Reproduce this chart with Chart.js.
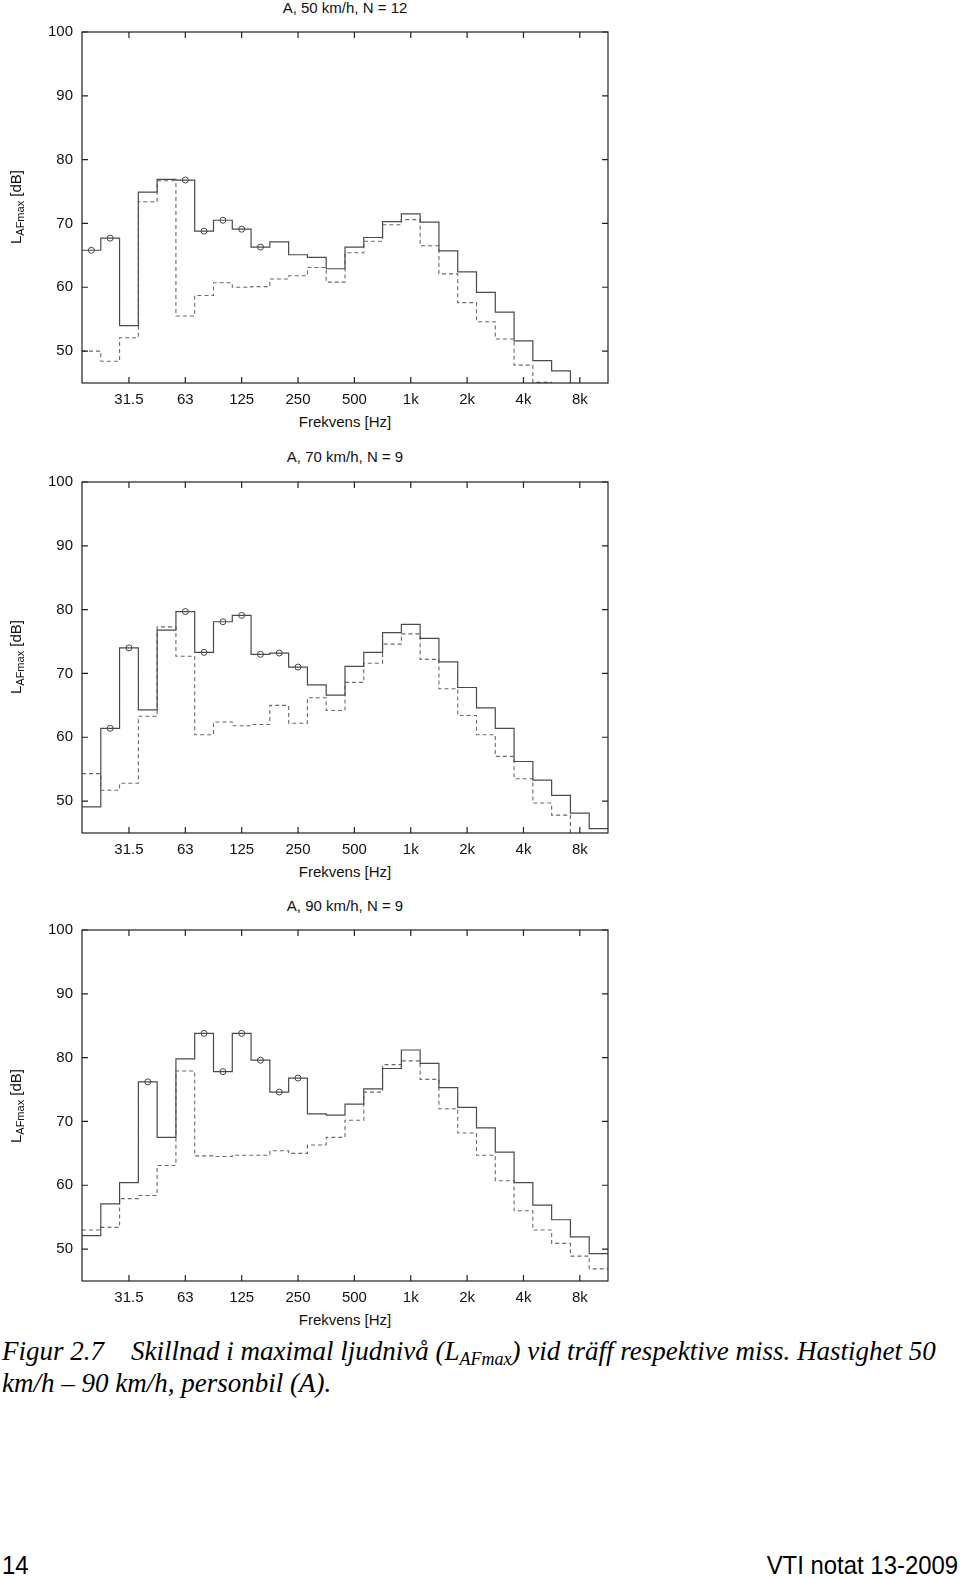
<!DOCTYPE html>
<html>
<head>
<meta charset="utf-8">
<script src="https://cdn.jsdelivr.net/npm/chart.js@4.4.1/dist/chart.umd.min.js"></script>
<style>
  body { margin: 0; background: #fff; width: 960px; height: 1578px; position: relative; overflow: hidden; }
  .box { position: absolute; left: 0; width: 620px; height: 401px; }
  .txt { position: absolute; font-family: "Liberation Sans", Arial, sans-serif; font-size: 15px; line-height: 18px; color: #111; white-space: nowrap; }
  .ttl { left: 145px; width: 400px; text-align: center; }
  .ylab { left: -34px; width: 100px; text-align: center; transform: rotate(-90deg); }
  .ylab sub { font-size: 11px; vertical-align: -3px; line-height: 0; }
  .cap { position: absolute; left: 2px; font-family: "Liberation Serif", "Times New Roman", serif; font-style: italic; font-size: 27px; line-height: 31.5px; color: #000; white-space: nowrap; }
  .cap sub { font-size: 18px; vertical-align: -5px; line-height: 0; }
  .foot { position: absolute; top: 1550px; font-family: "Liberation Sans", sans-serif; font-size: 26px; line-height: 30px; color: #000; }
</style>
</head>
<body>

<div class="txt ttl" style="top:-1px">A, 50 km/h, N = 12</div>
<div class="box" style="top:11.5px"><canvas id="c50"></canvas></div>
<div class="txt ttl" style="top:413px">Frekvens [Hz]</div>
<div class="txt ylab" style="top:198px">L<sub>AFmax</sub> [dB]</div>

<div class="txt ttl" style="top:448px">A, 70 km/h, N = 9</div>
<div class="box" style="top:461.5px"><canvas id="c70"></canvas></div>
<div class="txt ttl" style="top:863px">Frekvens [Hz]</div>
<div class="txt ylab" style="top:648px">L<sub>AFmax</sub> [dB]</div>

<div class="txt ttl" style="top:897px">A, 90 km/h, N = 9</div>
<div class="box" style="top:910px"><canvas id="c90"></canvas></div>
<div class="txt ttl" style="top:1311px">Frekvens [Hz]</div>
<div class="txt ylab" style="top:1097px">L<sub>AFmax</sub> [dB]</div>

<div class="cap" style="top:1336px">Figur 2.7<span style="display:inline-block;width:27px"></span>Skillnad i maximal ljudnivå (L<sub>AFmax</sub>) vid träff respektive miss. Hastighet 50<br>km/h – 90 km/h, personbil (A).</div>

<div class="foot" style="left:2px;transform:scaleX(0.92);transform-origin:left">14</div>
<div class="foot" style="right:2px;transform:scaleX(0.92);transform-origin:right">VTI notat 13-2009</div>

<script>
// third-octave bands 20 Hz .. 10 kHz, index 0..27
const tickBands = [2, 5, 8, 11, 14, 17, 20, 23, 26];
const tickLabels = ['31.5', '63', '125', '250', '500', '1k', '2k', '4k', '8k'];
const yTicks = [50, 60, 70, 80, 90, 100];

// 50 km/h
const solid50 = [65.8, 67.7, 54.0, 74.9, 76.9, 76.8, 68.8, 70.5, 69.1, 66.3, 67.1, 65.1, 64.7, 62.9,
                 66.3, 67.8, 70.3, 71.5, 70.2, 65.7, 62.4, 59.2, 56.1, 51.6, 48.5, 46.9, 43.0, 41.0];
const dashed50 = [50.0, 48.4, 52.1, 73.4, 76.7, 55.5, 58.7, 60.7, 60.0, 60.1, 61.3, 61.8, 63.1, 60.8,
                  65.4, 67.2, 69.8, 70.6, 66.5, 62.1, 57.6, 54.6, 51.9, 47.8, 45.1, 43.0, 41.0, 40.0];
const marks50 = [0, 1, 5, 6, 7, 8, 9];

// 70 km/h
const solid70 = [49.1, 61.4, 74.0, 64.3, 76.8, 79.7, 73.3, 78.1, 79.1, 73.0, 73.2, 71.0, 68.2, 66.6,
                 71.1, 73.3, 76.4, 77.7, 75.5, 71.8, 67.8, 64.6, 61.4, 56.2, 53.3, 50.9, 48.1, 45.7];
const dashed70 = [54.3, 51.7, 52.8, 63.3, 77.3, 72.7, 60.4, 62.4, 61.8, 62.0, 65.0, 62.2, 66.2, 64.2,
                  68.6, 71.6, 74.6, 76.2, 72.2, 67.6, 63.4, 60.4, 57.0, 53.5, 49.7, 47.8, 43.0, 41.0];
const marks70 = [1, 2, 5, 6, 7, 8, 9, 10, 11];

// 90 km/h
const solid90 = [52.1, 57.1, 60.4, 76.2, 67.5, 79.8, 83.8, 77.8, 83.8, 79.6, 74.6, 76.8, 71.2, 71.0,
                 72.7, 75.1, 78.3, 81.2, 79.1, 75.3, 72.2, 69.0, 65.2, 60.4, 56.9, 54.6, 51.9, 49.3];
const dashed90 = [53.0, 53.4, 57.9, 58.4, 63.1, 77.9, 64.6, 64.5, 64.7, 64.7, 65.4, 65.0, 66.3, 67.5,
                  70.2, 74.6, 78.9, 79.5, 76.6, 72.0, 68.2, 64.7, 60.7, 56.0, 53.0, 50.9, 48.9, 46.9];
const marks90 = [3, 6, 7, 8, 9, 10, 11];

// points at lower band edges, plus closing point at the upper edge of the last band
function steps(vals) {
    var pts = vals.map((v, i) => ({x: i - 0.5, y: v}));
    pts.push({x: vals.length - 0.5, y: vals[vals.length - 1]});
    return pts;
}

const frame = {
    id: 'frame',
    afterDraw(chart) {
        const ctx = chart.ctx;
        const a = chart.chartArea;
        const xs = chart.scales.x, ys = chart.scales.y;
        ctx.save();
        ctx.strokeStyle = '#222';
        ctx.lineWidth = 1.2;
        ctx.strokeRect(a.left, a.top, a.right - a.left, a.bottom - a.top);
        ctx.beginPath();
        ys.ticks.forEach(t => {
            const p = ys.getPixelForValue(t.value);
            ctx.moveTo(a.left, p); ctx.lineTo(a.left + 6, p);
            ctx.moveTo(a.right, p); ctx.lineTo(a.right - 6, p);
        });
        xs.ticks.forEach(t => {
            const p = xs.getPixelForValue(t.value);
            ctx.moveTo(p, a.bottom); ctx.lineTo(p, a.bottom - 6);
            ctx.moveTo(p, a.top); ctx.lineTo(p, a.top + 6);
        });
        ctx.stroke();
        ctx.restore();
    }
};

function makeChart(id, solid, dashed, marks) {
    new Chart(document.getElementById(id), {
        type: 'line',
        data: {
            datasets: [{
                data: steps(solid),
                stepped: true,
                borderColor: '#4a4a4a',
                borderWidth: 1.2,
                pointRadius: 0
            }, {
                data: steps(dashed),
                stepped: true,
                borderColor: '#6a6a6a',
                borderWidth: 1.1,
                borderDash: [4, 3],
                pointRadius: 0
            }, {
                data: marks.map(i => ({x: i, y: solid[i]})),
                showLine: false,
                pointRadius: 3,
                pointBorderWidth: 1,
                pointBorderColor: '#444',
                pointBackgroundColor: 'rgba(0,0,0,0)'
            }]
        },
        options: {
            responsive: true,
            maintainAspectRatio: false,
            animation: false,
            layout: { padding: { top: 20, right: 12, left: 0, bottom: 0 } },
            plugins: { legend: { display: false }, tooltip: { enabled: false } },
            scales: {
                x: {
                    type: 'linear',
                    min: -0.5,
                    max: 27.5,
                    afterBuildTicks: s => { s.ticks = tickBands.map(v => ({value: v})); },
                    afterFit: s => { s.height = 30; },
                    grid: { display: false, drawTicks: false },
                    border: { display: false },
                    ticks: {
                        padding: 8,
                        maxRotation: 0,
                        color: '#111',
                        font: { family: 'Liberation Sans', size: 15 },
                        callback: (v, i) => tickLabels[i]
                    }
                },
                y: {
                    min: 45,
                    max: 100,
                    afterBuildTicks: s => { s.ticks = yTicks.map(v => ({value: v})); },
                    afterFit: s => { s.width = 82; },
                    grid: { display: false, drawTicks: false },
                    border: { display: false },
                    ticks: {
                        padding: 9,
                        color: '#111',
                        font: { family: 'Liberation Sans', size: 15 }
                    }
                }
            }
        },
        plugins: [frame]
    });
}

makeChart('c50', solid50, dashed50, marks50);
makeChart('c70', solid70, dashed70, marks70);
makeChart('c90', solid90, dashed90, marks90);
</script>
</body>
</html>
